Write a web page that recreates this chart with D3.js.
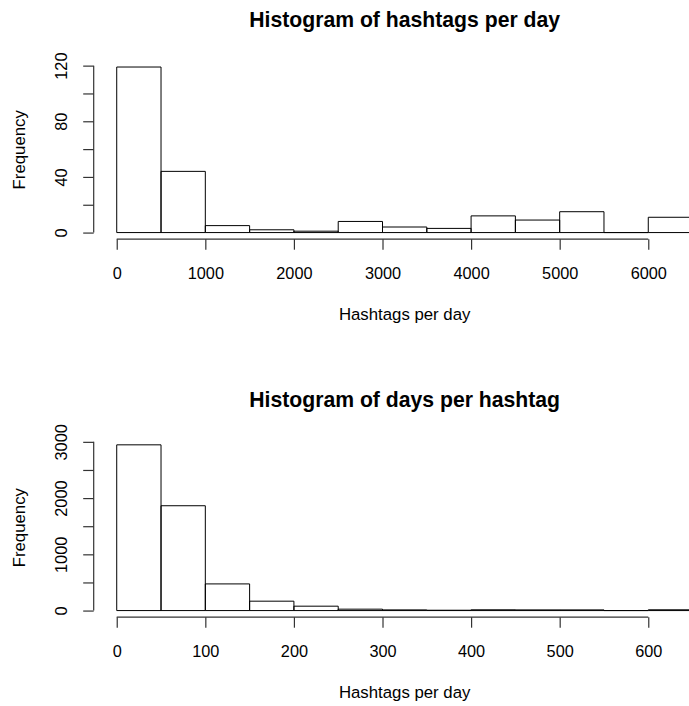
<!DOCTYPE html>
<html>
<head>
<meta charset="utf-8">
<script src="https://cdn.jsdelivr.net/npm/d3@7"></script>
<style>
  html, body { margin: 0; padding: 0; background: #fff; }
  svg text { font-family: "Liberation Sans", Arial, Helvetica, sans-serif; fill: #000; }
</style>
</head>
<body>
<svg id="chart" width="689" height="706"></svg>
<script>
// ---- Data ----
const titleTop = "Histogram of hashtags per day";
const titleBottom = "Histogram of days per hashtag";
const xLabelTop = "Hashtags per day";
const xLabelBottom = "Hashtags per day";
const yLabel = "Frequency";

// Top histogram: bins of width 500 from 0 to 6500
const binsTop = [0, 500, 1000, 1500, 2000, 2500, 3000, 3500, 4000, 4500, 5000, 5500, 6000];
const countsTop = [119, 44, 5, 2, 1, 8, 4, 3, 12, 9, 15, 0, 11];
const binWidthTop = 500;
const xTicksTop = [0, 1000, 2000, 3000, 4000, 5000, 6000];
const yTicksTop = [0, 20, 40, 60, 80, 100, 120];
const yTickLabelsTop = [0, 40, 80, 120];

// Bottom histogram: bins of width 50 from 0 to 650
const binsBottom = [0, 50, 100, 150, 200, 250, 300, 350, 400, 450, 500, 550, 600];
const countsBottom = [2947, 1864, 474, 167, 78, 25, 12, 6, 14, 12, 12, 0, 14];
const binWidthBottom = 50;
const xTicksBottom = [0, 100, 200, 300, 400, 500, 600];
const yTicksBottom = [0, 500, 1000, 1500, 2000, 2500, 3000];
const yTickLabelsBottom = [0, 1000, 2000, 3000];

// ---- Drawing ----
const svg = d3.select("#chart");
const plotLeft = 93.7, plotRight = 715.6;
const tickFont = 16.3, titleFont = 21.2;

function drawHist(cfg) {
  const g = svg.append("g");
  const xmin = cfg.bins[0], xmax = cfg.bins[cfg.bins.length - 1] + cfg.binWidth;
  const xpad = (xmax - xmin) * 0.04;
  const x = d3.scaleLinear().domain([xmin - xpad, xmax + xpad]).range([plotLeft, plotRight]);
  const ymax = d3.max(cfg.counts);
  const ypad = ymax * 0.04;
  const y = d3.scaleLinear().domain([-ypad, ymax + ypad]).range([cfg.plotBottom, cfg.plotTop]);

  // bars (drawn as closed paths so zero-height bins still show their line)
  g.selectAll("path.bar").data(cfg.bins.map((b, i) => ({b, c: cfg.counts[i]})))
    .enter().append("path")
    .attr("class", "bar")
    .attr("d", d => {
      const x0 = x(d.b), x1 = x(d.b + cfg.binWidth), y0 = y(0), y1 = y(d.c);
      return `M${x0},${y0}L${x0},${y1}L${x1},${y1}L${x1},${y0}Z`;
    })
    .attr("fill", "none")
    .attr("stroke", "#000")
    .attr("stroke-width", 1);

  // x axis
  const xAxis = d3.axisBottom(x).tickValues(cfg.xTicks).tickSize(10.5).tickPadding(16)
    .tickFormat(d3.format("d"));
  const xa = g.append("g").attr("transform", `translate(0,${cfg.plotBottom})`).call(xAxis);
  xa.select(".domain").attr("d", `M${x(cfg.xTicks[0])},0H${x(cfg.xTicks[cfg.xTicks.length-1])}`)
    .attr("stroke", "#333").attr("stroke-width", 1.2);
  xa.selectAll(".tick line").attr("stroke", "#333").attr("stroke-width", 1.2);
  xa.selectAll(".tick text").attr("font-size", tickFont).attr("dy", null).attr("y", 39.8)
    .attr("font-family", "Liberation Sans, Arial, sans-serif");

  // y axis
  const yAxis = d3.axisLeft(y).tickValues(cfg.yTicks).tickSize(10.5)
    .tickFormat(d => cfg.yTickLabels.includes(d) ? d3.format("d")(d) : "");
  const ya = g.append("g").attr("transform", `translate(${plotLeft},0)`).call(yAxis);
  ya.select(".domain").attr("d", `M0,${y(cfg.yTicks[0])}V${y(cfg.yTicks[cfg.yTicks.length-1])}`)
    .attr("stroke", "#333").attr("stroke-width", 1.2);
  ya.selectAll(".tick line").attr("stroke", "#333").attr("stroke-width", 1.2);
  ya.selectAll(".tick text")
    .attr("font-size", tickFont)
    .attr("font-family", "Liberation Sans, Arial, sans-serif")
    .attr("x", null).attr("dy", null)
    .attr("text-anchor", "middle")
    .attr("transform", "translate(-26.5,0) rotate(-90)");

  const cx = (plotLeft + plotRight) / 2;
  const cy = (cfg.plotTop + cfg.plotBottom) / 2;

  // title
  g.append("text").attr("x", cx).attr("y", cfg.titleY).attr("text-anchor", "middle")
    .attr("font-size", titleFont).attr("font-weight", "bold").text(cfg.title);
  // x label
  g.append("text").attr("x", cx).attr("y", cfg.plotBottom + 80.5).attr("text-anchor", "middle")
    .attr("font-size", 16.8).text(cfg.xLabel);
  // y label
  g.append("text").attr("transform", `translate(24.6,${cy}) rotate(-90)`).attr("text-anchor", "middle")
    .attr("font-size", 16.8).text(yLabel);
}

drawHist({
  bins: binsTop, counts: countsTop, binWidth: binWidthTop,
  xTicks: xTicksTop, yTicks: yTicksTop, yTickLabels: yTickLabelsTop,
  plotTop: 60.4, plotBottom: 239.2, titleY: 26.7,
  title: titleTop, xLabel: xLabelTop
});

drawHist({
  bins: binsBottom, counts: countsBottom, binWidth: binWidthBottom,
  xTicks: xTicksBottom, yTicks: yTicksBottom, yTickLabels: yTickLabelsBottom,
  plotTop: 438.2, plotBottom: 617.2, titleY: 406.7,
  title: titleBottom, xLabel: xLabelBottom
});
</script>
</body>
</html>
